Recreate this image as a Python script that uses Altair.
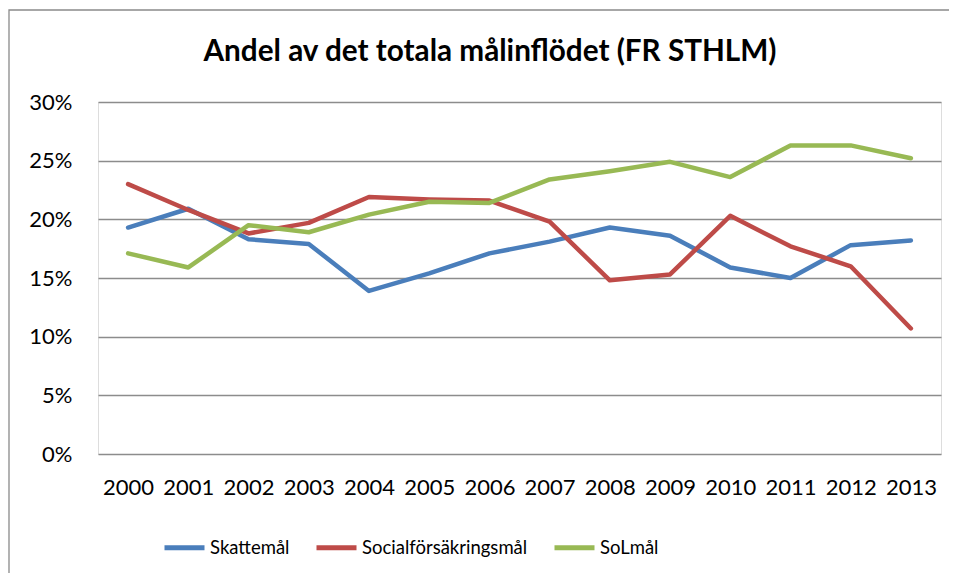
import altair as alt
import pandas as pd

years = [str(y) for y in range(2000, 2014)]
series_names = ["Skattemål", "Socialförsäkringsmål", "SoLmål"]
skatt = [19.3, 20.9, 18.3, 17.9, 13.9, 15.4, 17.1, 18.1, 19.3, 18.6, 15.9, 15.0, 17.8, 18.2]
social = [23.0, 20.8, 18.8, 19.7, 21.9, 21.7, 21.6, 19.8, 14.8, 15.3, 20.3, 17.7, 16.0, 10.7]
sol = [17.1, 15.9, 19.5, 18.9, 20.4, 21.5, 21.4, 23.4, 24.1, 24.9, 23.6, 26.3, 26.3, 25.2]
colors = ["#4A7EBB", "#BE4B48", "#98B954"]
title_text = "Andel av det totala målinflödet (FR STHLM)"

rows = []
for name, vals in zip(series_names, [skatt, social, sol]):
    for y, v in zip(years, vals):
        rows.append({"År": y, "Serie": name, "Andel": v / 100})
df = pd.DataFrame(rows)

FONT = "Lato"

lines = alt.Chart(df).mark_line(strokeWidth=4.5, strokeCap="round", strokeJoin="round").encode(
    x=alt.X("År:O", sort=years, title=None,
            axis=alt.Axis(labelAngle=0, ticks=False, domain=False, grid=False,
                          labelFont=FONT, labelFontSize=22, labelColor="#000",
                          labelPadding=23)),
    y=alt.Y("Andel:Q", scale=alt.Scale(domain=[0, 0.30]), title=None,
            axis=alt.Axis(format=".0%", values=[0, 0.05, 0.10, 0.15, 0.20, 0.25, 0.30],
                          ticks=False, domain=False, grid=True, gridColor="#8c8c8c",
                          gridWidth=1.4, labelFont=FONT, labelFontSize=22,
                          labelColor="#000", labelPadding=26)),
    color=alt.Color("Serie:N", sort=series_names,
                    scale=alt.Scale(domain=series_names, range=colors),
                    legend=alt.Legend(title=None, orient="none", direction="horizontal",
                                      legendX=64, legendY=423, symbolType="stroke",
                                      symbolSize=1600, symbolStrokeWidth=5,
                                      labelFont=FONT, labelFontSize=18.5, labelColor="#000",
                                      labelOffset=3, columnPadding=16, labelLimit=400)),
)

one = pd.DataFrame({"t": [title_text]})
frame = alt.Chart(one).mark_rect(filled=False, stroke="#8a8a8a", strokeWidth=1.3).encode(
    x=alt.value(-89), x2=alt.value(870), y=alt.value(-92), y2=alt.value(490))
title = alt.Chart(one).mark_text(font=FONT, fontSize=29.7, fontWeight="bold", color="#000",
                                  align="center", baseline="middle").encode(
    text="t:N", x=alt.value(392), y=alt.value(-50))

chart = alt.layer(lines, frame, title).properties(
    width=843, height=352,
    autosize=alt.AutoSizeParams(type="none"),
    padding={"left": 90, "top": 94, "right": 8, "bottom": 119},
).configure_view(stroke=None).configure(background="white")

chart.save("out.html", embed_options={"renderer": "svg", "actions": False})
